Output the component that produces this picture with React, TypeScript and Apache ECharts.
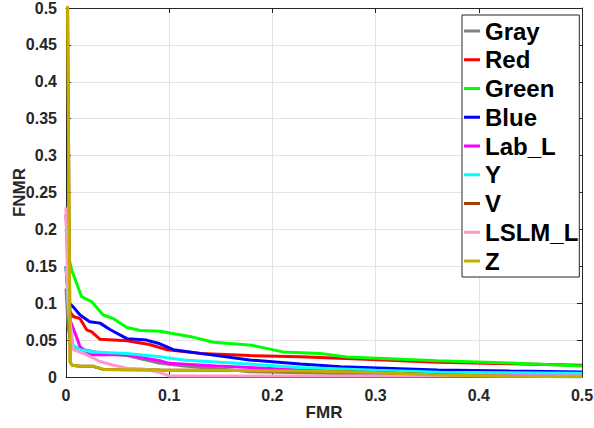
import React, { useEffect, useRef } from "react";
import * as echarts from "echarts";

// FMR (x) and FNMR (y) values per series
const grayX = [0, 0.002, 0.004, 0.007, 0.017, 0.036, 0.059, 0.091, 0.114, 0.15, 0.178, 0.25, 0.35, 0.5];
const grayY = [0.12, 0.07, 0.05, 0.041, 0.037, 0.032, 0.029, 0.0185, 0.015, 0.011, 0.0072, 0.005, 0.003, 0.002];

const redX = [0, 0.003, 0.007, 0.0136, 0.02, 0.025, 0.033, 0.059, 0.081, 0.098, 0.13, 0.178, 0.227, 0.29, 0.36, 0.43, 0.5];
const redY = [0.15, 0.09, 0.082, 0.079, 0.064, 0.061, 0.051, 0.049, 0.044, 0.037, 0.032, 0.029, 0.0275, 0.024, 0.02, 0.018, 0.016];

const greenX = [0, 0.003, 0.0055, 0.015, 0.025, 0.036, 0.046, 0.059, 0.072, 0.091, 0.12, 0.143, 0.18, 0.21, 0.246, 0.272, 0.36, 0.43, 0.5];
const greenY = [0.2, 0.16, 0.145, 0.109, 0.102, 0.084, 0.079, 0.067, 0.063, 0.062, 0.055, 0.047, 0.043, 0.034, 0.032, 0.027, 0.022, 0.019, 0.015];

const blueX = [0, 0.003, 0.007, 0.0136, 0.023, 0.033, 0.043, 0.059, 0.078, 0.091, 0.104, 0.13, 0.178, 0.227, 0.266, 0.36, 0.43, 0.5];
const blueY = [0.15, 0.1, 0.095, 0.084, 0.075, 0.073, 0.064, 0.052, 0.05, 0.045, 0.037, 0.032, 0.023, 0.0176, 0.014, 0.0095, 0.008, 0.0068];

const labLX = [0, 0.002, 0.004, 0.01, 0.0136, 0.023, 0.059, 0.078, 0.091, 0.1, 0.146, 0.227, 0.3, 0.362, 0.5];
const labLY = [0.22, 0.15, 0.077, 0.055, 0.041, 0.03, 0.03, 0.025, 0.022, 0.0185, 0.015, 0.0095, 0.007, 0.004, 0.003];

const yX = [0, 0.003, 0.007, 0.0136, 0.026, 0.059, 0.091, 0.114, 0.227, 0.3, 0.362, 0.5];
const yY = [0.15, 0.08, 0.043, 0.037, 0.034, 0.032, 0.0275, 0.023, 0.013, 0.009, 0.0064, 0.005];

const vX = [0.001, 0.004, 0.006, 0.0136, 0.026, 0.036, 0.091, 0.15, 0.227, 0.3, 0.362, 0.43, 0.5];
const vY = [0.6, 0.02, 0.016, 0.0145, 0.0145, 0.0103, 0.0095, 0.009, 0.008, 0.006, 0.0027, 0.001, 0.0005];

const lslmX = [0, 0.002, 0.007, 0.02, 0.033, 0.046, 0.059, 0.075, 0.091, 0.1, 0.2, 0.3, 0.4, 0.5];
const lslmY = [0.23, 0.1, 0.037, 0.03, 0.021, 0.016, 0.012, 0.011, 0.006, 0.0015, 0.0015, 0.0015, 0.0015, 0.0015];

const zX = [0.001, 0.004, 0.006, 0.0136, 0.026, 0.036, 0.091, 0.15, 0.227, 0.3, 0.362, 0.43, 0.5];
const zY = [0.6, 0.02, 0.016, 0.0145, 0.0145, 0.0103, 0.0095, 0.009, 0.008, 0.006, 0.0027, 0.001, 0.0005];

const seriesNames = ["Gray", "Red", "Green", "Blue", "Lab_L", "Y", "V", "LSLM_L", "Z"];
const seriesColors = ["#808080", "#ff0000", "#00ff00", "#0000ff", "#ff00ff", "#00ffff", "#a0400a", "#ff99c8", "#c0b000"];
const seriesXs = [grayX, redX, greenX, blueX, labLX, yX, vX, lslmX, zX];
const seriesYs = [grayY, redY, greenY, blueY, labLY, yY, vY, lslmY, zY];

const xTicks = [0, 0.1, 0.2, 0.3, 0.4, 0.5];
const yTickStep = 0.05;

const FONT = "'Liberation Sans', Arial, Helvetica, sans-serif";
const AX = "#262626";

export default function App() {
  const ref = useRef<HTMLDivElement>(null);
  useEffect(() => {
    if (!ref.current) return;
    const chart = echarts.init(ref.current, undefined, { renderer: "svg" });
    const tickStyle = { color: AX, fontSize: 16, fontWeight: "bold" as const, fontFamily: FONT };
    const baseX = {
      type: "value" as const,
      min: xTicks[0],
      max: xTicks[xTicks.length - 1],
      interval: xTicks[1] - xTicks[0],
    };
    const baseY = { type: "value" as const, min: 0, max: 0.5, interval: yTickStep };
    chart.setOption({
      animation: false,
      backgroundColor: "#fff",
      grid: { left: 66, right: 12, top: 8, bottom: 51, containLabel: false, outerBoundsMode: "none" },
      legend: {
        orient: "vertical",
        left: 462,
        top: 15,
        padding: [4, 1, 4, 2],
        itemGap: 4.75,
        itemWidth: 16,
        itemHeight: 3,
        icon: "rect",
        backgroundColor: "#fff",
        borderColor: AX,
        borderWidth: 1,
        borderRadius: 0,
        textStyle: { fontSize: 24, fontWeight: "bold", color: "#000", fontFamily: FONT, lineHeight: 24 },
        data: seriesNames,
      },
      xAxis: [
        {
          ...baseX,
          position: "bottom",
          name: "FMR",
          nameLocation: "middle",
          nameGap: 27,
          nameMoveOverlap: false,
          nameTextStyle: { color: AX, fontSize: 17, fontWeight: "bold", fontFamily: FONT },
          axisLine: { show: true, onZero: false, lineStyle: { color: AX, width: 1 } },
          axisTick: { show: true, inside: true, length: 5, lineStyle: { color: AX } },
          axisLabel: { ...tickStyle, margin: 10 },
          splitLine: { show: true, lineStyle: { color: "#e3e3e3", width: 1 } },
        },
        {
          ...baseX,
          position: "top",
          axisLine: { show: true, onZero: false, lineStyle: { color: AX, width: 1 } },
          axisTick: { show: true, inside: true, length: 5, lineStyle: { color: AX } },
          axisLabel: { show: false },
          splitLine: { show: false },
        },
      ],
      yAxis: [
        {
          ...baseY,
          position: "left",
          name: "FNMR",
          nameLocation: "middle",
          nameGap: 38,
          nameMoveOverlap: false,
          nameTextStyle: { color: AX, fontSize: 17, fontWeight: "bold", fontFamily: FONT },
          axisLine: { show: true, onZero: false, lineStyle: { color: AX, width: 1 } },
          axisTick: { show: true, inside: true, length: 5, lineStyle: { color: AX } },
          axisLabel: { ...tickStyle, margin: 9 },
          splitLine: { show: true, lineStyle: { color: "#e3e3e3", width: 1 } },
        },
        {
          ...baseY,
          position: "right",
          axisLine: { show: true, onZero: false, lineStyle: { color: AX, width: 1 } },
          axisTick: { show: true, inside: true, length: 5, lineStyle: { color: AX } },
          axisLabel: { show: false },
          splitLine: { show: false },
        },
      ],
      series: seriesNames.map((name, i) => ({
        name,
        type: "line",
        xAxisIndex: 0,
        yAxisIndex: 0,
        showSymbol: false,
        symbol: "none",
        clip: true,
        color: seriesColors[i],
        lineStyle: { color: seriesColors[i], width: 3 },
        data: seriesXs[i].map((x, j) => [x, seriesYs[i][j]]),
      })),
    });
    return () => chart.dispose();
  }, []);
  return <div ref={ref} style={{ width: 594, height: 428, position: "absolute", left: 0, top: 0 }} />;
}
